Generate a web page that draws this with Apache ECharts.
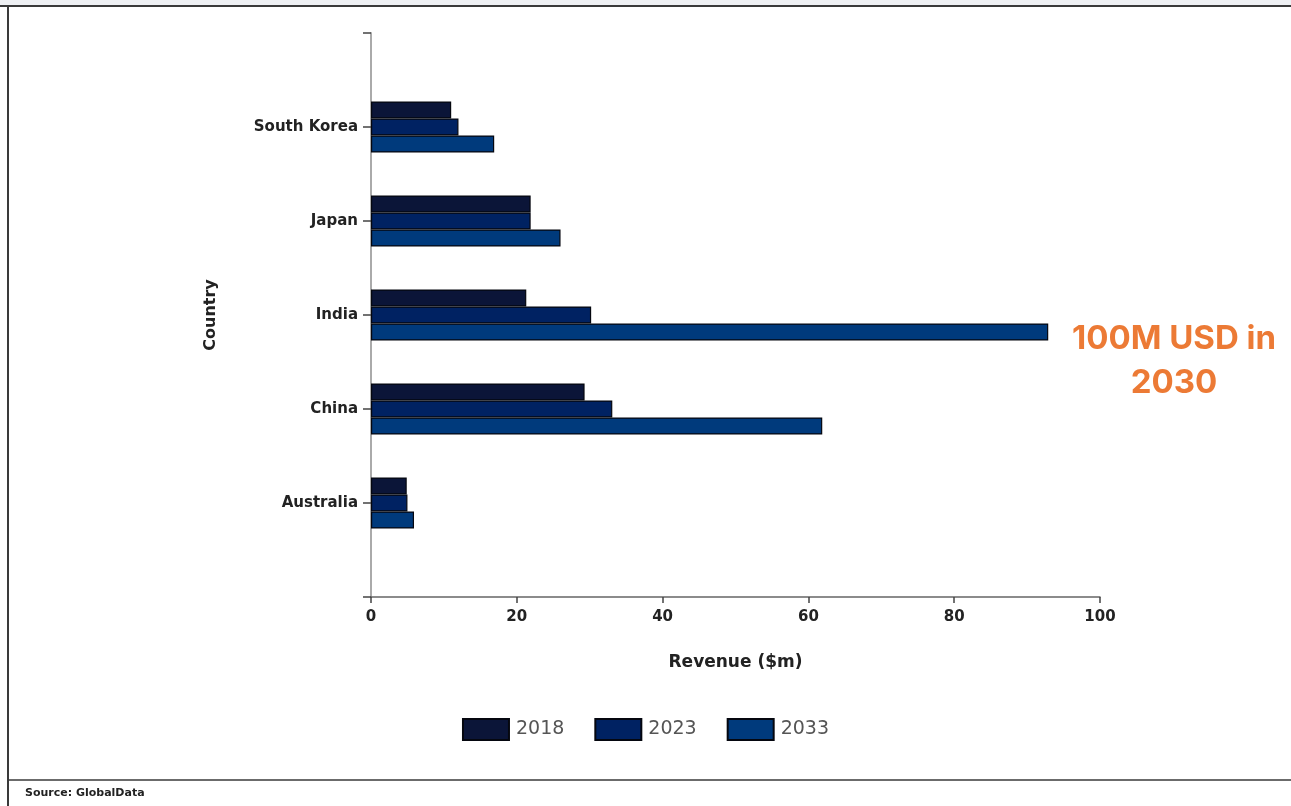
<!DOCTYPE html>
<html><head><meta charset="utf-8">
<script src="https://cdn.jsdelivr.net/npm/echarts@6/dist/echarts.min.js"></script>
<style>
html,body{margin:0;padding:0;background:#fff;}
#c{width:1291px;height:806px;}
</style></head>
<body><div id="c"></div>
<script>
const categories = ['', 'South Korea', 'Japan', 'India', 'China', 'Australia', ''];
const years = ['2018', '2023', '2033'];
const values2018 = [null, 11, 21.9, 21.3, 29.3, 4.9, null];
const values2023 = [null, 12, 21.9, 30.2, 33.1, 5, null];
const values2033 = [null, 16.9, 26, 92.9, 61.9, 5.9, null];
const xTicks = [0, 20, 40, 60, 80, 100];
const colors = ['#0b1538', '#002262', '#003a7c'];

const chart = echarts.init(document.getElementById('c'), null, {renderer: 'canvas'});
const seriesValues = [values2018, values2023, values2033];
const lblFont = {fontFamily: 'DejaVu Sans', fontWeight: 'bold', fontSize: 15, color: '#222'};
chart.setOption({
  animation: false,
  backgroundColor: '#fff',
  grid: {left: 371, right: 191, top: 33, bottom: 209, containLabel: false},
  xAxis: {
    type: 'value', min: xTicks[0], max: xTicks[xTicks.length - 1], interval: 20,
    splitLine: {show: false},
    axisLine: {show: true, lineStyle: {color: '#666', width: 1.5}},
    axisTick: {show: true, length: 6, lineStyle: {color: '#444', width: 1.5}},
    axisLabel: Object.assign({margin: 13}, lblFont),
    name: 'Revenue ($m)', nameLocation: 'middle', nameGap: 57,
    nameTextStyle: Object.assign({}, lblFont, {fontSize: 17})
  },
  yAxis: {
    type: 'category', data: categories, inverse: true, boundaryGap: false,
    axisLine: {show: true, lineStyle: {color: '#aaa', width: 2}},
    axisTick: {show: true, length: 8, alignWithLabel: true, lineStyle: {color: '#444', width: 1.5}},
    axisLabel: Object.assign({margin: 13}, lblFont),
    name: 'Country', nameLocation: 'middle', nameGap: 152, nameRotate: 90,
    nameTextStyle: Object.assign({}, lblFont, {fontSize: 16})
  },
  legend: {
    data: years, bottom: 60, left: 'center',
    itemWidth: 46, itemHeight: 21, itemGap: 30, icon: 'rect',
    textStyle: {fontFamily: 'DejaVu Sans', fontSize: 19, color: '#555', padding: [0, 0, 0, 2]}
  },
  series: years.map((y, i) => ({
    name: y, type: 'bar', data: seriesValues[i],
    barWidth: 17, barGap: '0%',
    itemStyle: {color: colors[i], borderColor: '#05070f', borderWidth: 1.2}
  })),
  graphic: [
    {type: 'rect', z: 100, left: 0, top: 0, shape: {width: 1291, height: 5}, style: {fill: '#eef0f3'}, silent: true},
    {type: 'line', z: 100, shape: {x1: 0, y1: 6, x2: 1291, y2: 6}, style: {stroke: '#3a3a3a', lineWidth: 2}},
    {type: 'line', z: 100, shape: {x1: 8, y1: 6, x2: 8, y2: 806}, style: {stroke: '#3a3a3a', lineWidth: 2}},
    {type: 'line', z: 100, shape: {x1: 8, y1: 780, x2: 1291, y2: 780}, style: {stroke: '#3a3a3a', lineWidth: 1.5}},
    {type: 'text', left: 25, top: 788, style: {text: 'Source: GlobalData', font: 'bold 11px "DejaVu Sans"', fill: '#222'}},
    {type: 'text', x: 1174, y: 361, style: {text: '100M USD in\n2030', font: 'bold 33px Inter', fill: '#ec7a35', align: 'center', verticalAlign: 'middle', lineHeight: 44}}
  ]
});
</script></body></html>
